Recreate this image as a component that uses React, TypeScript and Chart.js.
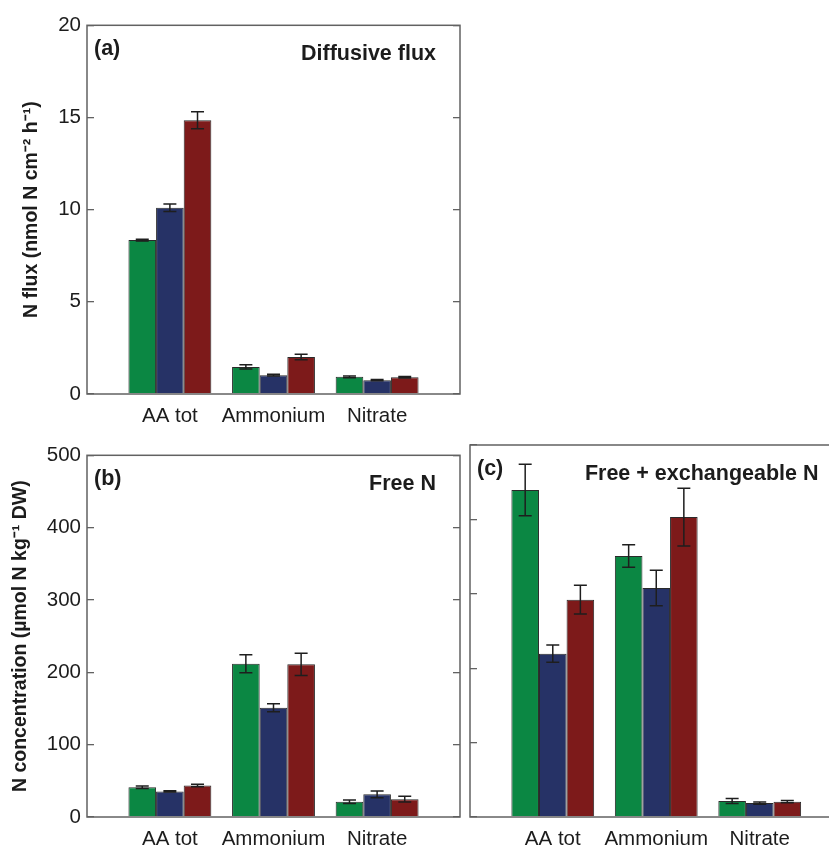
import { useEffect, useRef } from 'react';
import { Chart, registerables } from 'chart.js';

Chart.register(...registerables);

// ---------- data ----------
const categories = ['AA tot', 'Ammonium', 'Nitrate'];
const seriesColors = ['#0b8743', '#263266', '#7d1a1a'];

// (a) Diffusive flux (nmol N cm-2 h-1)
const fluxGreen = [8.35, 1.47, 0.93];
const fluxBlue = [10.1, 1.02, 0.75];
const fluxRed = [14.85, 2.01, 0.91];
const fluxGreenErr = [0.05, 0.11, 0.05];
const fluxBlueErr = [0.2, 0.05, 0.03];
const fluxRedErr = [0.46, 0.15, 0.04];
const fluxTicks = [0, 5, 10, 15, 20];

// (b) Free N (umol N kg-1 DW)
const freeGreen = [41.2, 211.9, 21.1];
const freeBlue = [35.4, 151, 31.4];
const freeRed = [43.5, 211, 24.6];
const freeGreenErr = [1.8, 12.5, 2.5];
const freeBlueErr = [0.8, 5.4, 4.7];
const freeRedErr = [1.8, 15.5, 4];

// (c) Free + exchangeable N (umol N kg-1 DW)
const exchGreen = [439.5, 350.8, 21.5];
const exchBlue = [219.5, 307.8, 18.8];
const exchRed = [292.1, 403.2, 20.6];
const exchGreenErr = [34.5, 15, 3.4];
const exchBlueErr = [11.6, 24, 1.5];
const exchRedErr = [19.3, 38.8, 1.5];
const concTicks = [0, 100, 200, 300, 400, 500];

const FONT = "'Liberation Sans', Arial, Helvetica, sans-serif";
const TEXT = '#1c1c1c';
const FRAME = '#626262';

type PanelProps = {
  left: number;
  top: number;
  width: number;
  height: number;
  series: number[][];
  errors: number[][];
  yMax: number;
  yTicks: number[];
  showYLabels: boolean;
  yTitle: string;
  titlePad: number;
  yWidth: number;
  pad: { left: number; right: number; top: number; bottom: number };
  label: string;
  heading: string;
};

const framePlugin = {
  id: 'frame',
  afterDatasetsDraw(chart: any) {
    const { ctx, chartArea: a } = chart;
    ctx.save();
    ctx.strokeStyle = FRAME;
    ctx.lineWidth = 1.5;
    ctx.strokeRect(a.left, a.top, a.right - a.left, a.bottom - a.top);
    ctx.restore();
  },
};

const errorBarPlugin = {
  id: 'errorBars',
  afterDatasetsDraw(chart: any) {
    const { ctx } = chart;
    const yScale = chart.scales.y;
    ctx.save();
    ctx.strokeStyle = '#1e1e1e';
    ctx.lineWidth = 1.5;
    chart.data.datasets.forEach((ds: any, i: number) => {
      const meta = chart.getDatasetMeta(i);
      meta.data.forEach((bar: any, j: number) => {
        const v = ds.data[j].y;
        const e = ds.errors[j];
        const yt = yScale.getPixelForValue(v + e);
        const yb = yScale.getPixelForValue(Math.max(0, v - e));
        const x = bar.x;
        const cap = 6.5;
        ctx.beginPath();
        ctx.moveTo(x, yt);
        ctx.lineTo(x, yb);
        ctx.moveTo(x - cap, yt);
        ctx.lineTo(x + cap, yt);
        ctx.moveTo(x - cap, yb);
        ctx.lineTo(x + cap, yb);
        ctx.stroke();
      });
    });
    ctx.restore();
  },
};

const labelPlugin = {
  id: 'panelLabels',
  afterDraw(chart: any) {
    const { ctx, chartArea: a } = chart;
    const o = chart.options.plugins.panelLabels;
    ctx.save();
    ctx.fillStyle = TEXT;
    ctx.font = `bold 21.5px ${FONT}`;
    ctx.textBaseline = 'alphabetic';
    ctx.textAlign = 'left';
    ctx.fillText(o.label, a.left + 7, a.top + 30);
    ctx.textAlign = 'right';
    ctx.fillText(o.heading, a.right - 24, a.top + 34.5);
    ctx.restore();
  },
};

function Panel(p: PanelProps) {
  const ref = useRef<HTMLCanvasElement | null>(null);
  useEffect(() => {
    if (!ref.current) return;
    const tickFont = { family: FONT, size: 20.5 };
    const grid = {
      drawOnChartArea: false,
      drawTicks: true,
      tickLength: -7,
      color: FRAME,
      lineWidth: 1.3,
    };
    const chart = new Chart(ref.current, {
      type: 'bar',
      data: {
        datasets: p.series.map((vals, i) => ({
          data: vals.map((v, j) => ({ x: j + 1, y: v })),
          errors: p.errors[i],
          backgroundColor: seriesColors[i],
          borderColor: '#2a2a2a',
          borderWidth: 1,
          categoryPercentage: 0.8,
          barPercentage: 1,
          yAxisID: 'y',
        })) as any,
      },
      options: {
        animation: false,
        responsive: false,
        devicePixelRatio: 1,
        layout: { padding: p.pad },
        plugins: {
          legend: { display: false },
          tooltip: { enabled: false },
          panelLabels: { label: p.label, heading: p.heading },
        } as any,
        scales: {
          x: {
            type: 'linear',
            min: 0.2,
            max: 3.8,
            offset: false,
            afterBuildTicks: (s: any) => {
              s.ticks = categories.map((_, i) => ({ value: i + 1 }));
            },
            afterFit: (s: any) => {
              s.height = 40;
            },
            ticks: {
              callback: (v: any) => categories[Math.round(Number(v)) - 1] ?? '',
              font: tickFont,
              color: TEXT,
              padding: 10,
              maxRotation: 0,
              autoSkip: false,
            },
            grid: { display: false, drawTicks: false, tickLength: 0 },
            border: { display: false },
          },
          y: {
            type: 'linear',
            position: 'left',
            min: 0,
            max: p.yMax,
            afterBuildTicks: (s: any) => {
              s.ticks = p.yTicks.map((v) => ({ value: v }));
            },
            afterFit: (s: any) => {
              s.width = p.yWidth;
            },
            ticks: { display: p.showYLabels, font: tickFont, color: TEXT, padding: 13 },
            grid,
            border: { display: false },
            title: {
              display: p.yTitle !== '',
              text: p.yTitle,
              color: TEXT,
              font: { family: FONT, size: 19.5, weight: 'bold' },
              padding: { top: p.titlePad, bottom: 0 },
            },
          },
          y2: {
            type: 'linear',
            position: 'right',
            min: 0,
            max: p.yMax,
            afterBuildTicks: (s: any) => {
              s.ticks = p.yTicks.map((v) => ({ value: v }));
            },
            afterFit: (s: any) => {
              s.width = 2;
            },
            ticks: { display: false },
            grid,
            border: { display: false },
          },
        } as any,
      },
      plugins: [framePlugin, errorBarPlugin, labelPlugin],
    });
    return () => chart.destroy();
  }, []);
  return (
    <canvas
      ref={ref}
      width={p.width}
      height={p.height}
      style={{ position: 'absolute', left: p.left, top: p.top, width: p.width, height: p.height, display: 'block' }}
    />
  );
}

export default function App() {
  return (
    <div
      style={{
        position: 'fixed',
        left: 0,
        top: 0,
        width: 829,
        height: 848,
        overflow: 'hidden',
        background: '#ffffff',
      }}
    >
      <Panel
        left={0}
        top={0}
        width={470}
        height={440}
        series={[fluxGreen, fluxBlue, fluxRed]}
        errors={[fluxGreenErr, fluxBlueErr, fluxRedErr]}
        yMax={20}
        yTicks={fluxTicks}
        showYLabels={true}
        yTitle={'N flux (nmol N cm\u207B\u00B2 h\u207B\u00B9)'}
        titlePad={20.3}
        yWidth={87}
        pad={{ left: 0, right: 8, top: 23, bottom: 6 }}
        label="(a)"
        heading="Diffusive flux"
      />
      <Panel
        left={0}
        top={430}
        width={470}
        height={440}
        series={[freeGreen, freeBlue, freeRed]}
        errors={[freeGreenErr, freeBlueErr, freeRedErr]}
        yMax={500}
        yTicks={concTicks}
        showYLabels={true}
        yTitle={'N concentration (\u00B5mol N kg\u207B\u00B9 DW)'}
        titlePad={9.3}
        yWidth={87}
        pad={{ left: 0, right: 8, top: 15, bottom: 13 }}
        label="(b)"
        heading="Free N"
      />
      <Panel
        left={460}
        top={430}
        width={400}
        height={440}
        series={[exchGreen, exchBlue, exchRed]}
        errors={[exchGreenErr, exchBlueErr, exchRedErr]}
        yMax={500}
        yTicks={concTicks}
        showYLabels={false}
        yTitle={''}
        titlePad={0}
        yWidth={10}
        pad={{ left: 0, right: 15.5, top: 15, bottom: 13 }}
        label="(c)"
        heading="Free + exchangeable N"
      />
    </div>
  );
}
